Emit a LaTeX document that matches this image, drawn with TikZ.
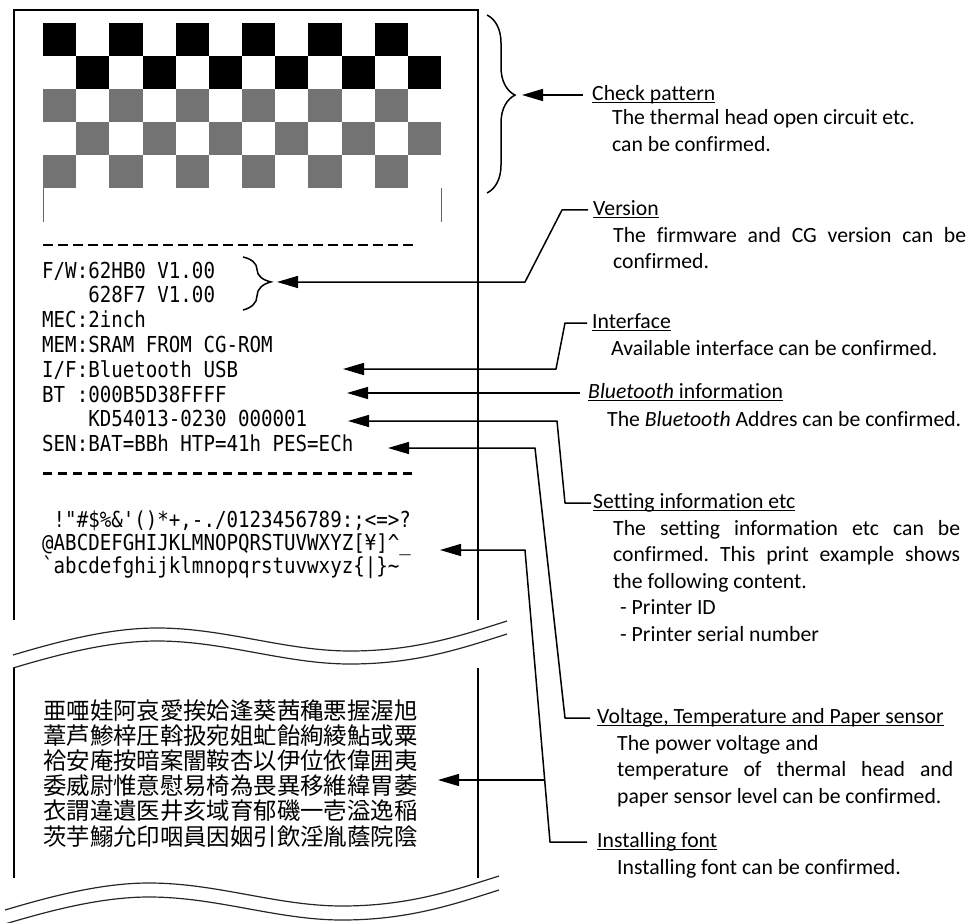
\documentclass[tikz,border=0pt]{standalone}
\usepackage{fontspec}
\setmainfont{Carlito}[Ligatures={NoCommon}]
\newfontfamily\prtfont{DejaVu Sans Mono}[FakeStretch=0.87]
\newfontfamily\cjkfont{Noto Sans CJK JP}
\usetikzlibrary{positioning,arrows.meta,decorations.pathreplacing,calc}
\newcommand{\undl}[1]{\setbox0=\hbox{#1}\rlap{\rule[-2.6pt]{\wd0}{1.3pt}}\box0}
\frenchspacing

\begin{document}
\begin{tikzpicture}[x=1pt,y=-1pt,
  ppr/.style={line width=1.3pt},
  blk/.style={fill=black},
  hatch/.style={fill=black!55},
  wv/.style={line width=1.2pt,black!85},
  brc/.style={decorate,line width=1.5pt,decoration={brace,amplitude=28pt}},
  ld/.style={line width=1.5pt,line join=round,-{Triangle[length=21pt,width=12pt]}},
  ttl/.style={anchor=west,inner sep=0pt,text height=15pt,text depth=4pt,
              font=\fontsize{21.7}{26.5}\selectfont},
  dsc/.style={anchor=base west,inner sep=0pt,align=left,
              font=\fontsize{21.7}{26.5}\selectfont},
  prt/.style={anchor=base west,inner sep=0pt,align=left,
              font=\prtfont\fontsize{22}{24.8}\selectfont},
  kanji/.style={anchor=base west,inner sep=0pt,align=left,
              font=\cjkfont\fontsize{23.4}{25.2}\selectfont}]
\useasboundingbox (0,0) rectangle (970,923);

% paper
\draw[ppr] (14,620) -- (14,10) -- (478,10) -- (478,620);
\draw[ppr] (14,668) -- (14,878);
\draw[ppr] (478,668) -- (478,878);
\foreach \dx/\dy in {0/0,0/13,-8/255,-8/269}
  \draw[wv,shift={(\dx,\dy)}] (13,655) .. controls (60,641) and (110,628) .. (157,628)
    .. controls (225,628) and (285,651) .. (350,651)
    .. controls (415,651) and (460,636) .. (507,621);

% check pattern
\foreach \c in {0,2,...,10}{
  \fill[blk] ({43+\c*33.17},23) rectangle +(33.17,33);
  \fill[blk] ({43+(\c+1)*33.17},56) rectangle +(33.17,33);
  \fill[hatch] ({43+\c*33.17},89) rectangle +(33.17,33);
  \fill[hatch] ({43+(\c+1)*33.17},122) rectangle +(33.17,33);
  \fill[hatch] ({43+\c*33.17},155) rectangle +(33.17,33);
}
\draw[line width=1.6pt,black!60] (43.5,188) -- (43.5,222);
\draw[line width=1.6pt,black!60] (441.5,188) -- (441.5,222);
\draw[line width=1.5pt,dash pattern=on 10pt off 5pt] (43,245) -- (415,245);
\draw[line width=3pt,dash pattern=on 9pt off 6pt] (43,473) -- (415,473);

% printed lines (base = last line)
\node[prt] (info) at (42,451.6) {F/W:62HB0 V1.00\\ \phantom{F/W:}628F7 V1.00\\ MEC:2inch\\
  MEM:SRAM FROM CG-ROM\\ I/F:Bluetooth USB\\ BT :000B5D38FFFF\\
  \phantom{BT :}KD54013-0230 000001\\ SEN:BAT=BBh HTP=41h PES=ECh};
\node[prt,font=\prtfont\fontsize{22}{23}\selectfont] (chars) at (42,573)
  {\phantom{@}!\char"22\#\$\%\&\char"27()*+,-./0123456789:;<=>?\\
   @ABCDEFGHIJKLMNOPQRSTUVWXYZ[¥]\char"5E\_\\
   \char"60 abcdefghijklmnopqrstuvwxyz\{|\}\char"7E};
\node[kanji] (kanji) at (43,845) {亜唖娃阿哀愛挨姶逢葵茜穐悪握渥旭\\
  葦芦鯵梓圧斡扱宛姐虻飴絢綾鮎或粟\\ 袷安庵按暗案闇鞍杏以伊位依偉囲夷\\
  委威尉惟意慰易椅為畏異移維緯胃萎\\ 衣謂違遺医井亥域育郁磯一壱溢逸稲\\
  茨芋鰯允印咽員因姻引飲淫胤蔭院陰};

% braces
\coordinate (bigT) at (487,15);
\coordinate (bigB) at (487,193);
\draw[brc,decoration={aspect=0.45}] (bigT) -- (bigB);
\coordinate (fwT) at (243,257);
\coordinate (fwB) at (243,310);
\draw[brc,decoration={aspect=0.47}] (fwT) -- (fwB);

% labels
\node[ttl] (chk) at (592,95) {\undl{Check pattern}};
\node[dsc] (chkD) at ([xshift=20pt,yshift=-51pt]chk.base west)
  {The thermal head open circuit etc.\\ can be confirmed.};
\node[ttl] (ver) at (593,210) {\undl{Version}};
\node[dsc] (verD) at ([xshift=20pt,yshift=-53pt]ver.base west)
  {\makebox[353pt][s]{The firmware and CG version can be}\\ confirmed.};
\node[ttl] (ifc) at (592,323) {\undl{Interface}};
\node[dsc] (ifcD) at ([xshift=19pt,yshift=-26.5pt]ifc.base west)
  {Available interface can be confirmed.};
\node[ttl] (bt) at (588,393) {\undl{\textit{Bluetooth} information}};
\node[dsc] (btD) at ([xshift=19pt,yshift=-27.5pt]bt.base west)
  {The \textit{Bluetooth} Addres can be confirmed.};
\node[ttl] (set) at (593,503) {\undl{Setting information etc}};
\node[dsc] (setD) at ([xshift=20pt,yshift=-132.5pt]set.base west)
  {\makebox[347pt][s]{The setting information etc can be}\\
   \makebox[347pt][s]{confirmed. This print example shows}\\
   the following content.\\ \hspace*{7pt}- Printer ID\\ \hspace*{7pt}- Printer serial number};
\node[ttl] (volt) at (597,718) {\undl{Voltage, Temperature and Paper sensor}};
\node[dsc] (voltD) at ([xshift=20pt,yshift=-79.5pt]volt.base west)
  {The power voltage and\\ \makebox[336pt][s]{temperature of thermal head and}\\
   paper sensor level can be confirmed.};
\node[ttl] (inst) at (597,842) {\undl{Installing font}};
\node[dsc] (instD) at ([xshift=20pt,yshift=-26.5pt]inst.base west)
  {Installing font can be confirmed.};

% arrow tips
\coordinate (chkTip) at (522,95);
\coordinate (verTip) at (277,282);
\coordinate (ifTip) at (343,369);
\coordinate (btTip) at (347,393);
\coordinate (kdTip) at (348,421);
\coordinate (senTip) at (388,448);
\coordinate (chrTip) at (440,550);
\coordinate (cjkTip) at (438,780);
\coordinate (fj) at (544.7,780);

% leaders
\draw[ld] ([xshift=-9pt]chk.west) -- (chkTip);
\draw[ld] ([xshift=-5pt]ver.west) -- (562,210) -- (525,282) -- (verTip);
\draw[ld] ([xshift=-5pt]ifc.west) -- (565,323) -- (556,369) -- (ifTip);
\draw[ld] ([xshift=-8pt]bt.west) -- (btTip);
\draw[ld] ([xshift=-2pt]set.west) -- (565,503) -- (557,421) -- (kdTip);
\draw[ld] ([xshift=-7pt]volt.west) -- (565,718) -- (535,448) -- (senTip);
\draw[ld] ([xshift=-10pt]inst.west) -- (550,842) -- (525,550) -- (chrTip);
\draw[ld] (fj) -- (cjkTip);
\end{tikzpicture}
\end{document}
